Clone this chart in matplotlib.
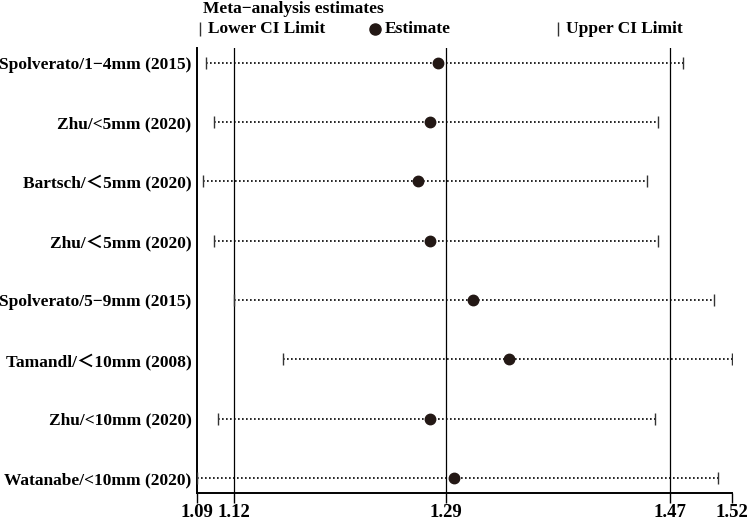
import matplotlib
matplotlib.use("Agg")
import matplotlib.pyplot as plt

# study labels, top to bottom
studies = ["Spolverato/1\u22124mm (2015)", "Zhu/<5mm (2020)", "Bartsch/\uff1c5mm (2020)",
           "Zhu/\uff1c5mm (2020)", "Spolverato/5\u22129mm (2015)", "Tamandl/\uff1c10mm (2008)",
           "Zhu/<10mm (2020)", "Watanabe/<10mm (2020)"]
lower = [1.097, 1.104, 1.095, 1.104, 1.120, 1.159, 1.107, 1.090]
estimate = [1.284, 1.277, 1.268, 1.277, 1.312, 1.341, 1.277, 1.297]
upper = [1.481, 1.461, 1.452, 1.461, 1.506, 1.520, 1.458, 1.509]

# meta-analysis estimate and CI, axis ticks
meta_lines = [1.12, 1.29, 1.47]
xticks = [1.09, 1.12, 1.29, 1.47, 1.52]

fonts = ["Liberation Serif", "Noto Sans CJK SC", "DejaVu Sans"]
plt.rcParams["font.family"] = fonts
plt.rcParams["font.weight"] = "bold"
dot_color = "#231815"

fig = plt.figure(figsize=(7.52, 5.2), dpi=100)
ax = fig.add_axes([0.262, 0.052, 0.711, 0.856])

for x in meta_lines:
    ax.axvline(x, color="black", lw=0.9, zorder=1)

ypos = list(range(1, len(studies) + 1))
for y, lo, est, up in zip(ypos, lower, estimate, upper):
    ax.plot([lo, up], [y, y], linestyle=(0, (1, 1.4)), color="black", lw=1.2, zorder=2)
ax.plot(lower, ypos, linestyle="none", marker="|", markersize=9, mew=1.0, color="#333333", zorder=3)
ax.plot(upper, ypos, linestyle="none", marker="|", markersize=9, mew=1.0, color="#333333", zorder=3)
ax.plot(estimate, ypos, linestyle="none", marker="o", markersize=7.5, color=dot_color, zorder=4)

ax.set_xlim(1.09, 1.52)
ax.set_ylim(len(studies) + 0.25, 0.75)
ax.set_yticks(ypos)
ax.set_yticklabels(studies, fontsize=12.5, fontweight="bold")
ax.tick_params(axis="y", length=0, pad=4)
ax.set_xticks(xticks)
ax.set_xticklabels([f"{v:.2f}" for v in xticks], fontsize=13.5, fontweight="bold")
ax.tick_params(axis="x", length=7, width=1.0, pad=1)

ax.spines["top"].set_visible(False)
ax.spines["right"].set_visible(False)
ax.spines["left"].set_linewidth(1.4)
ax.spines["bottom"].set_linewidth(1.4)

# legend drawn by hand above the plot
fig.text(0.27, 0.983, "Meta\u2212analysis estimates", fontsize=12.5, fontweight="bold",
         va="center", ha="left")
leg_y = 0.944
fig.lines.append(plt.Line2D([0.266], [leg_y], marker="|", markersize=10, mew=1.0,
                            color="#333333", transform=fig.transFigure))
fig.text(0.277, leg_y, "Lower CI Limit", fontsize=12.5, fontweight="bold", va="center", ha="left")
fig.lines.append(plt.Line2D([0.4987], [leg_y], marker="o", markersize=8,
                            color=dot_color, transform=fig.transFigure))
fig.text(0.512, leg_y, "Estimate", fontsize=12.5, fontweight="bold", va="center", ha="left")
fig.lines.append(plt.Line2D([0.742], [leg_y], marker="|", markersize=10, mew=1.0,
                            color="#333333", transform=fig.transFigure))
fig.text(0.753, leg_y, "Upper CI Limit", fontsize=12.5, fontweight="bold", va="center", ha="left")

fig.savefig("out.png", dpi=100)
